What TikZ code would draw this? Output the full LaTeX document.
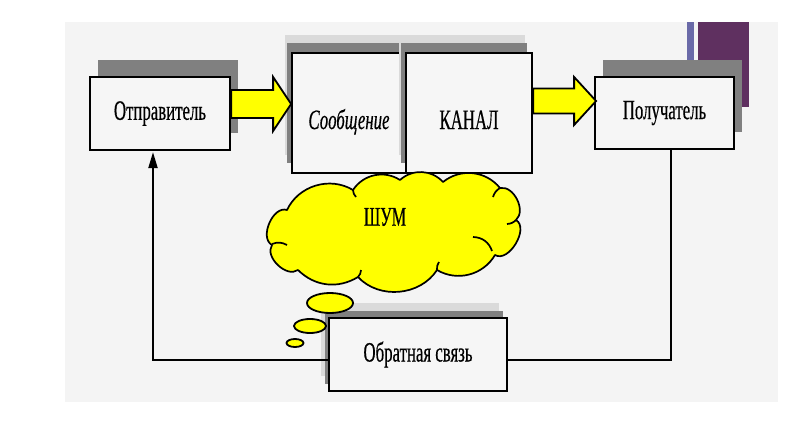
\documentclass[tikz,border=0pt]{standalone}
\usepackage{fontspec}
\usetikzlibrary{shapes.geometric,shadows,calc,arrows.meta}
\newfontfamily\narrowserif[FakeStretch=0.6,FakeBold=0.4]{Liberation Serif}
\definecolor{panelgray}{HTML}{F4F4F4}
\definecolor{boxfill}{HTML}{F6F6F6}
\definecolor{darkshadow}{HTML}{808080}
\definecolor{lightshadow}{HTML}{DADADA}
\definecolor{slidepurple}{HTML}{5F3060}
\definecolor{slideblue}{HTML}{6A6AA8}
\definecolor{cloudyellow}{HTML}{FFFF00}

\begin{document}
\begin{tikzpicture}[x=1pt,y=-1pt,
  every node/.style={font=\narrowserif\fontsize{28}{30}\selectfont},
  block/.style={rectangle,draw,line width=2.2pt,fill=boxfill,inner sep=0pt},
  sideshadow/.style={general shadow={shadow xshift=8pt,shadow yshift=17pt,fill=darkshadow,draw=none}},
  doubleshadow/.style n args={4}{general shadow={shadow xshift=#1,shadow yshift=#2,fill=lightshadow,draw=none},
    general shadow={shadow xshift=#3,shadow yshift=#4,fill=darkshadow,draw=none}},
  blockarrow/.style={draw,fill=cloudyellow,line width=1.8pt,line join=miter},
  cloudline/.style={line width=1.7pt,line join=round},
  bubble/.style={ellipse,draw,line width=1.8pt,fill=cloudyellow,inner sep=0pt},
  fbline/.style={line width=2pt}]

  \useasboundingbox (0,0) rectangle (806,423);
  \fill[panelgray] (65,22) rectangle (778,402);
  \fill[slideblue] (687,22) rectangle (694,60);
  \fill[slidepurple] (698,22) rectangle (749,107);

  \node[block,sideshadow,minimum width=140,minimum height=73] (sender) at (160,113.5) {Отправитель};
  \node[block,doubleshadow={-7pt}{18pt}{-5pt}{10pt},minimum width=114,minimum height=120,
    text height=32pt,text depth=0pt] (msg) at (349,113) {\itshape Сообщение};
  \node[block,doubleshadow={-7pt}{18pt}{-5pt}{10pt},minimum width=126,minimum height=120,
    text height=32pt,text depth=0pt] (chan) at (469,113) {КАНАЛ};
  \node[block,sideshadow,minimum width=139,minimum height=72] (receiver) at (664.5,113) {Получатель};
  \node[block,doubleshadow={-8pt}{15pt}{-4pt}{7pt},minimum width=178,minimum height=73] (feedback) at (418,354.5) {Обратная связь};

  \draw[blockarrow] ($(sender.east)+(0,-23.5)$) -- ++(42,0) -- ++(0,-13) -- ++(18,27)
    -- ++(-18,27) -- ++(0,-13) -- ++(-42,0) -- cycle;
  \draw[blockarrow] ($(chan.east)+(0,-24.5)$) -- ++(41,0) -- ++(0,-11.5) -- ++(22,24)
    -- ++(-22,24) -- ++(0,-11.5) -- ++(-41,0) -- cycle;

  \draw[cloudline,fill=cloudyellow] (287,210) to[bend left=48] (353,190) to[bend left=45] (400,180)
    to[bend left=45] (443,182) to[bend left=45] (500,188) to[bend left=75] (516,220)
    to[bend left=90] (495,255) to[bend left=45] (437,270) to[bend left=52] (358,277)
    to[bend left=38] (298,270) to[bend left=80] (272,245) to[bend left=85] cycle;
  \draw[cloudline] (500,188) to[bend right=20] (493,197);
  \draw[cloudline] (516,220) to[bend left=20] (507,224);
  \draw[cloudline] (473,237) to[bend left=35] (492,251);
  \draw[cloudline] (437,270) to[bend left=20] (439,262);
  \draw[cloudline] (358,277) to[bend right=20] (361,270);
  \draw[cloudline] (287,245) to[bend right=25] (272,244);
  \draw[cloudline] (353,190) to[bend right=20] (356,197);
  \node[font=\narrowserif\fontsize{27}{29}\selectfont] (noiselabel) at (385,217) {ШУМ};

  \node[bubble,minimum width=46,minimum height=20] (bubbleA) at (330,303) {};
  \node[bubble,minimum width=32,minimum height=14] (bubbleB) at (310,326) {};
  \node[bubble,minimum width=17,minimum height=8] (bubbleC) at (295,343) {};

  \draw[fbline] ($(receiver.south)+(6,0)$) |- ($(feedback.east)+(0,5.5)$);
  \draw[fbline,-{Triangle[length=16pt,width=9pt]}] ($(feedback.west)+(0,5.5)$) -| ($(sender.south)+(-7,1)$);
\end{tikzpicture}
\end{document}
